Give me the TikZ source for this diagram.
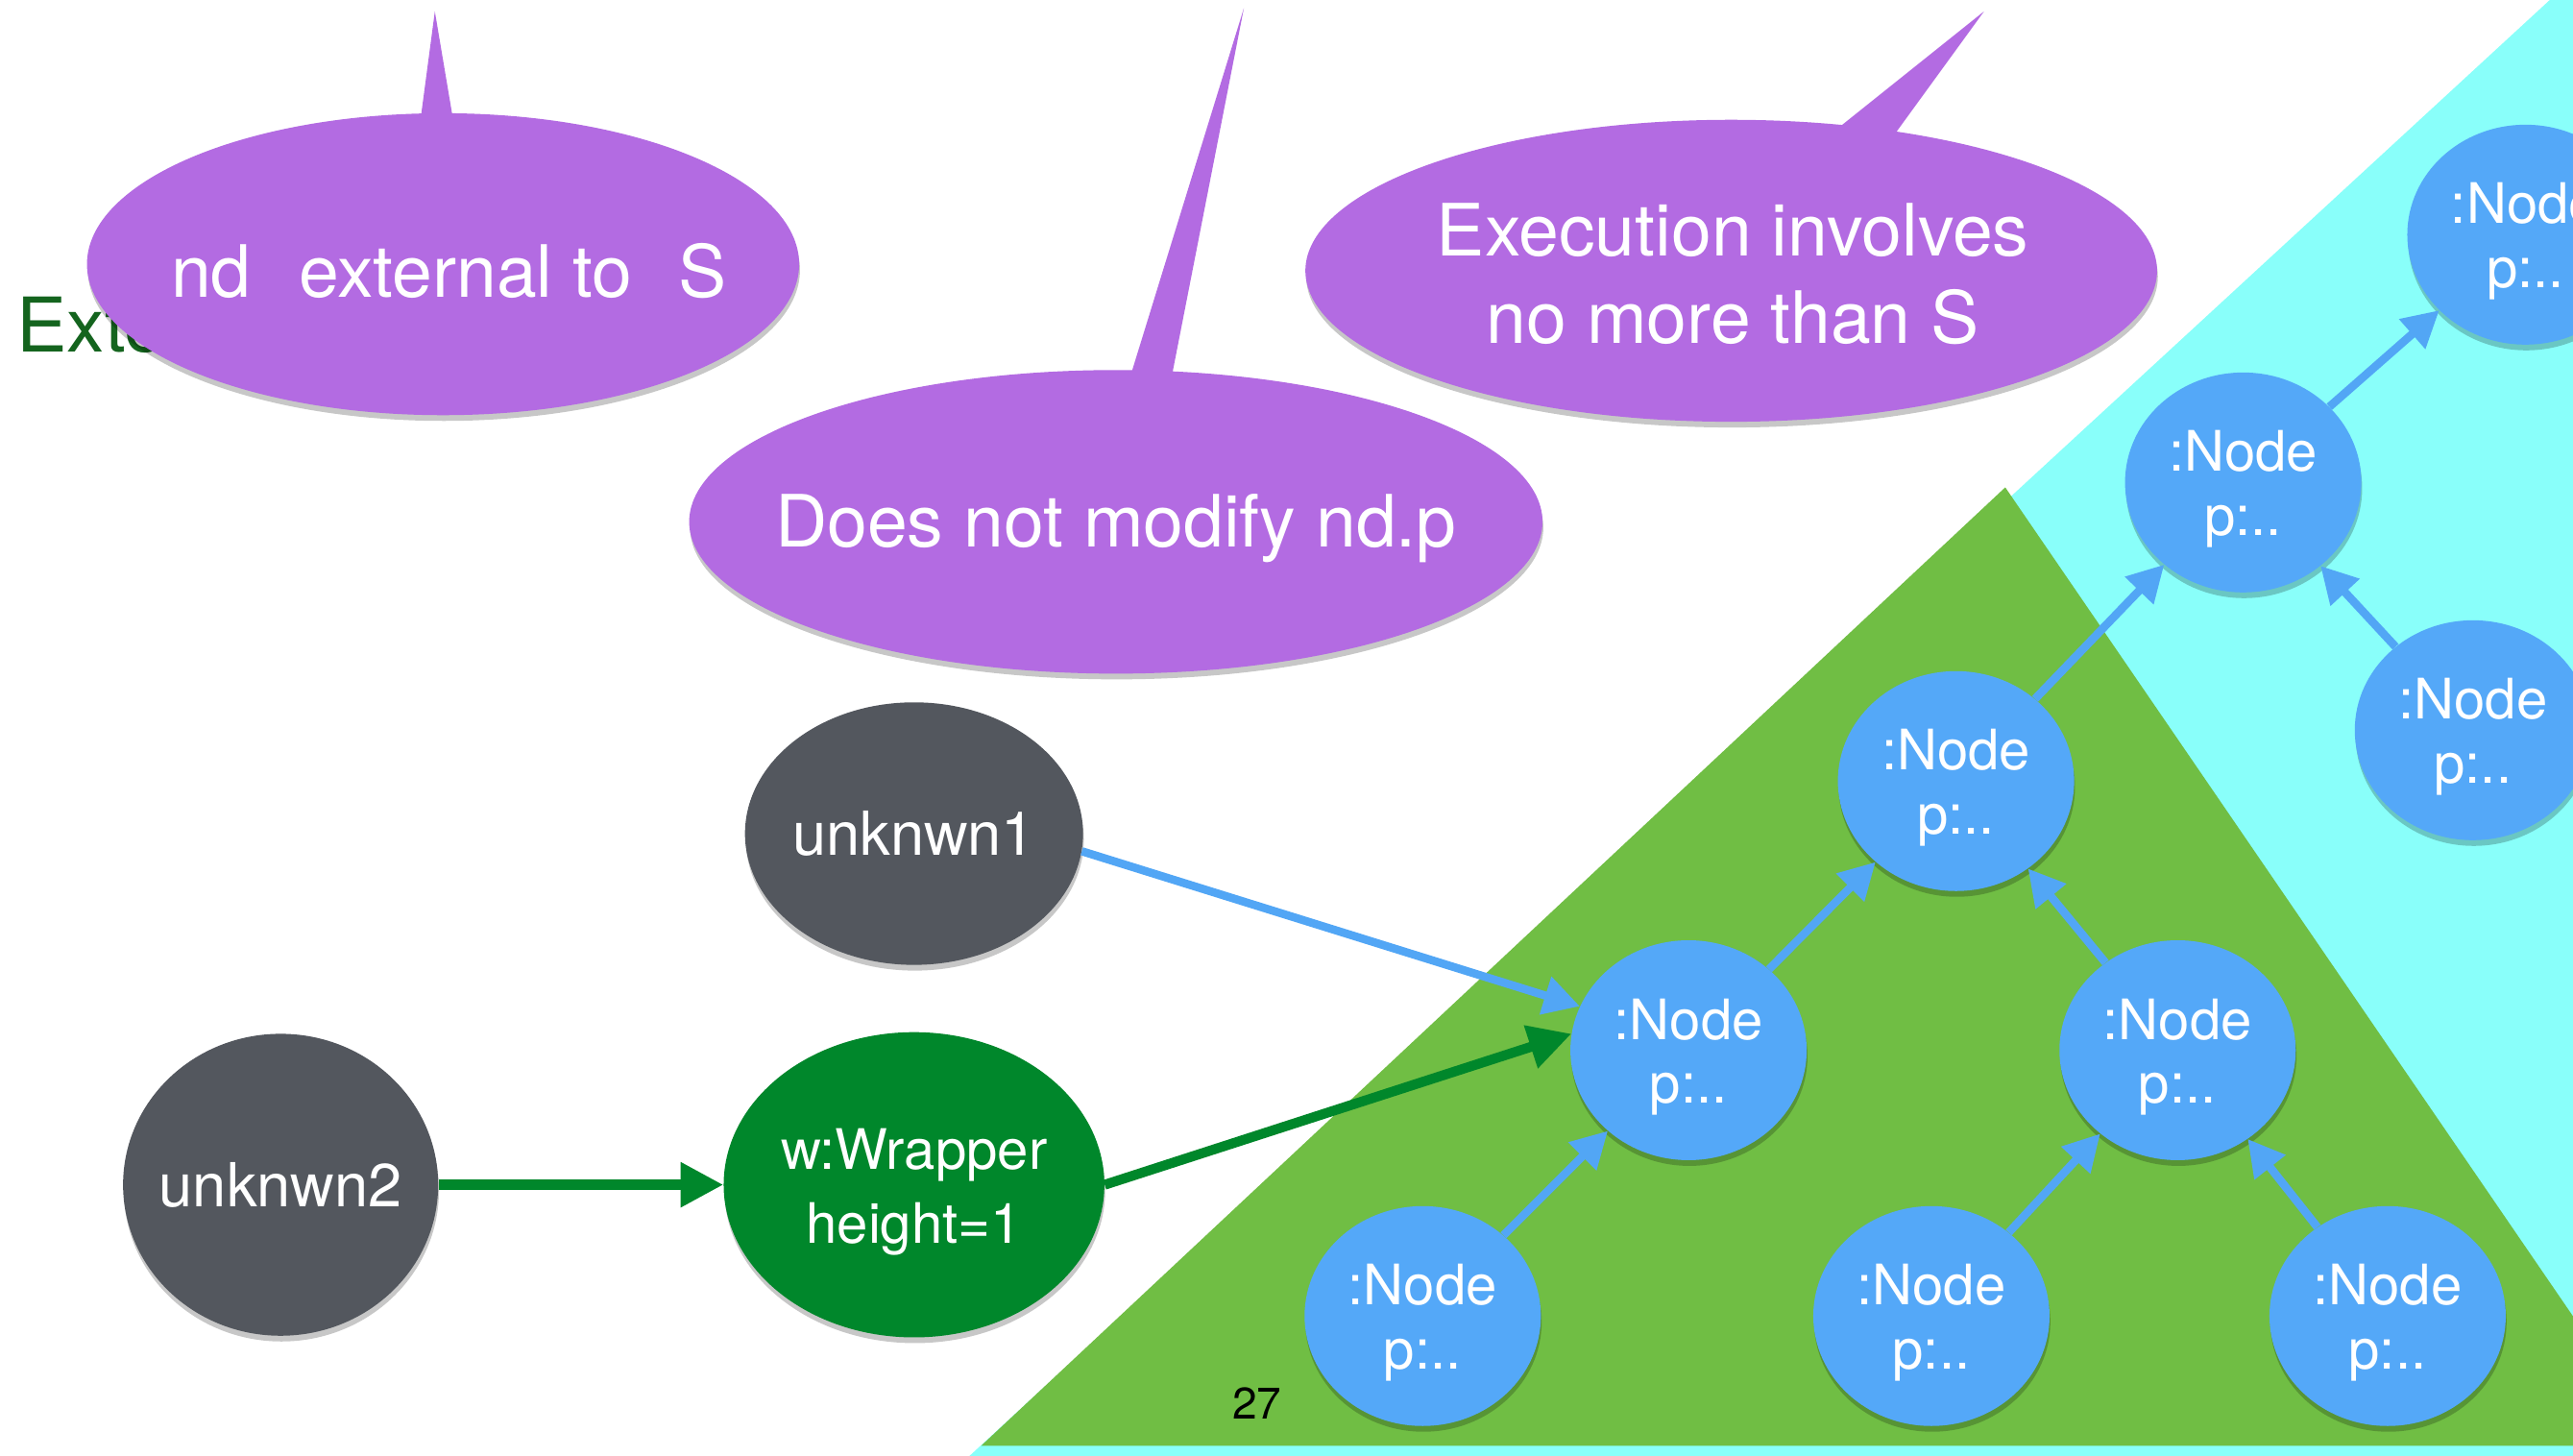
\documentclass[tikz,border=0pt]{standalone}
\usepackage{fontspec}
\setmainfont{TeX Gyre Heros}
\usetikzlibrary{shapes.geometric,arrows.meta,shadows}
\definecolor{bubblepurple}{RGB}{179,107,226}
\definecolor{cyanbg}{RGB}{137,255,250}
\definecolor{trigreen}{RGB}{112,190,68}
\definecolor{nodeblue}{RGB}{84,168,248}
\definecolor{arrowblue}{RGB}{82,166,245}
\definecolor{unkgray}{RGB}{83,87,94}
\definecolor{wrapgreen}{RGB}{0,135,43}
\definecolor{extgreen}{RGB}{20,100,30}
\begin{document}
\begin{tikzpicture}[x=1pt,y=-1pt,
  softshadow/.style={drop shadow={shadow xshift=0.5pt,shadow yshift=-3.5pt,opacity=0.22,fill=black}},
  bubble/.style={ellipse, fill=bubblepurple, inner sep=0pt, softshadow},
  bubbletext/.style={text=white, inner sep=0pt, align=center, font=\fontsize{44}{53}\selectfont},
  treenode/.style={ellipse, fill=nodeblue, minimum width=144pt, minimum height=134pt, inner sep=0pt, text=white, align=center, font=\fontsize{34}{39}\selectfont, softshadow},
  unknode/.style={ellipse, fill=unkgray, inner xsep=-13pt, inner ysep=0pt, text=white, font=\fontsize{37}{44}\selectfont, softshadow},
  wrapnode/.style={ellipse, fill=wrapgreen, inner xsep=-6pt, inner ysep=0pt, text=white, align=center, font=\fontsize{34}{45}\selectfont, softshadow},
  bluearrow/.style={draw=arrowblue, line width=5pt, -{Triangle[length=22pt,width=23pt]}},
  greenarrow/.style={draw=wrapgreen, line width=6pt, -{Triangle[length=26pt,width=26pt]}}
]
\useasboundingbox (0,0) rectangle (1568,887);
\clip (0,0) rectangle (1568,887);
\fill[white] (0,0) rectangle (1568,887);

% background regions
\fill[cyanbg] (590,888) -- (1556,-2) -- (1600,-2) -- (1600,888) -- cycle;
\fill[trigreen] (598,881) -- (1222,297) -- (1622,881) -- cycle;

% partially hidden title text
\node[anchor=west, inner sep=0pt, text=extgreen, font=\fontsize{46}{50}\selectfont] (ext) at (10,198) {Exte};

% nodes
\node[unknode, minimum width=206pt, minimum height=160pt] (u1) at (557,508) {unknwn1};
\node[unknode, minimum width=192pt, minimum height=184pt] (u2) at (171,722) {unknwn2};
\node[wrapnode, minimum width=232pt, minimum height=186pt] (w) at (557,722) {\rule{0pt}{34pt}w:Wrapper\\height=1};

\node[treenode] (l1) at (867,802) {\rule{0pt}{33pt}:Node\\p:..};
\node[treenode] (l2) at (1177,802) {\rule{0pt}{33pt}:Node\\p:..};
\node[treenode] (l3) at (1455,802) {\rule{0pt}{33pt}:Node\\p:..};
\node[treenode] (na) at (1029,640) {\rule{0pt}{33pt}:Node\\p:..};
\node[treenode] (nb) at (1327,640) {\rule{0pt}{33pt}:Node\\p:..};
\node[treenode] (nc) at (1192,476) {\rule{0pt}{33pt}:Node\\p:..};
\node[treenode] (nd) at (1367,294) {\rule{0pt}{33pt}:Node\\p:..};
\node[treenode] (ne) at (1507,445) {\rule{0pt}{33pt}:Node\\p:..};
\node[treenode] (nf) at (1539,143) {\rule{0pt}{33pt}:Node\\p:..};

% connectors
\draw[greenarrow] (u2.east) -- (w.west);
\draw[greenarrow] (w.east) -- (na.172);
\draw[bluearrow] (u1.-6) -- (na.158);
\draw[bluearrow] (l1) -- (na);
\draw[bluearrow] (l2) -- (nb);
\draw[bluearrow] (l3) -- (nb);
\draw[bluearrow] (na) -- (nc);
\draw[bluearrow] (nb) -- (nc);
\draw[bluearrow] (nc) -- (nd);
\draw[bluearrow] (ne) -- (nd);
\draw[bluearrow] (nd) -- (nf);

% page number
\node[inner sep=0pt, font=\fontsize{27}{30}\selectfont] (pg) at (766,855) {27};

% speech bubbles
\fill[bubblepurple] (254,90) -- (265,7) -- (279,90) -- cycle;
\node[bubble, minimum width=434pt, minimum height=184pt] (b1) at (270,161) {};
\node[bubbletext, anchor=west] (t1) at (104,165) {nd\hspace{29pt}external to\hspace{28pt}S};

\fill[bubblepurple] (684,245) -- (758,5) -- (711,245) -- cycle;
\node[bubble, minimum width=520pt, minimum height=185pt] (b2) at (680,318) {};
\node[bubbletext] (t2) at (680,322) {Does not modify nd.p};

\fill[bubblepurple] (1099,95) -- (1209,7) -- (1145,95) -- cycle;
\node[bubble, minimum width=519pt, minimum height=184pt] (b3) at (1055,165) {};
\node[bubbletext] (t3) at (1056,167) {Execution involves\\no more than S};
\end{tikzpicture}
\end{document}
